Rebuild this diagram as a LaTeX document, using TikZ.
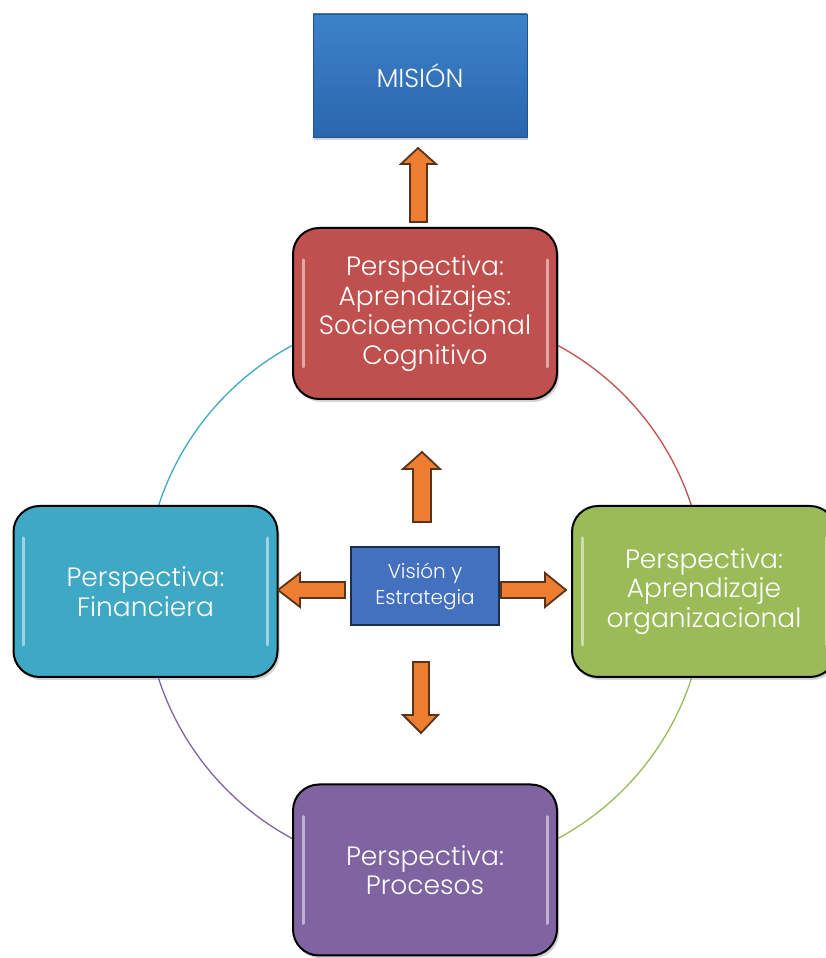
\documentclass[tikz,border=0pt]{standalone}
\usepackage{fontspec}
\setmainfont{Poppins Light}
\usetikzlibrary{shadows}
\definecolor{misblue}{HTML}{2A66AE}
\definecolor{misblueT}{HTML}{3D82C9}
\definecolor{redbox}{HTML}{C0504D}
\definecolor{cyanbox}{HTML}{3FA8C4}
\definecolor{greenbox}{HTML}{9BBB59}
\definecolor{purplebox}{HTML}{8064A2}
\definecolor{centerblue}{HTML}{4470C0}
\definecolor{centeredge}{HTML}{1B2E4F}
\definecolor{arrfill}{HTML}{ED7D31}
\definecolor{arredge}{HTML}{5A3418}
\tikzset{
  persp/.style={draw=black, line width=2pt, rounded corners=26pt,
    minimum width=264pt, minimum height=171pt, text=white, align=center,
    font=\fontsize{26.5}{29.5}\selectfont,
    drop shadow={opacity=0.35, shadow xshift=2pt, shadow yshift=-3pt},
    path picture={
      \draw[white, opacity=0.5, line width=3pt, line cap=round]
        ([xshift=10pt,yshift=-32pt]path picture bounding box.north west) --
        ([xshift=10pt,yshift=32pt]path picture bounding box.south west);
      \draw[white, opacity=0.5, line width=3pt, line cap=round]
        ([xshift=-10pt,yshift=-32pt]path picture bounding box.north east) --
        ([xshift=-10pt,yshift=32pt]path picture bounding box.south east);
    }},
  blockarr/.style={fill=arrfill, draw=arredge, line width=1.8pt, line join=miter},
  ring/.style={line width=1.3pt}
}
\begin{document}
\begin{tikzpicture}[x=1pt,y=1pt]
\useasboundingbox (0,0) rectangle (826,958);
% ring
\coordinate (c) at (425,366);
\draw[ring, cyanbox] (c) ++(90:280pt) arc[start angle=90, end angle=180, radius=280pt];
\draw[ring, redbox] (c) ++(0:280pt) arc[start angle=0, end angle=90, radius=280pt];
\draw[ring, greenbox] (c) ++(270:280pt) arc[start angle=270, end angle=360, radius=280pt];
\draw[ring, purplebox] (c) ++(180:280pt) arc[start angle=180, end angle=270, radius=280pt];
% mission
\node[minimum width=214pt, minimum height=123pt, top color=misblueT, bottom color=misblue,
  draw=misblue!80!black, line width=0.8pt, text=white, font=\fontsize{26}{30}\selectfont,
  drop shadow={opacity=0.35, shadow xshift=1pt, shadow yshift=-3pt}]
  (mision) at (420,882.5) {MISIÓN};
% perspectives
\node[persp, fill=redbox] (aprend) at (425,644.5) {Perspectiva:\\Aprendizajes:\\Socioemocional\\Cognitivo};
\node[persp, fill=cyanbox] (fin) at (145.5,366.5) {Perspectiva:\\Financiera};
\node[persp, fill=greenbox] (org) at (704,366.5) {Perspectiva:\\Aprendizaje\\organizacional};
\node[persp, fill=purplebox] (proc) at (425,88) {Perspectiva:\\Procesos};
% center
\node[minimum width=148pt, minimum height=78pt, fill=centerblue, draw=centeredge, line width=2pt,
  text=white, align=center, font=\fontsize{20}{26}\selectfont] (vision) at (425,371.5) {Visión y\\Estrategia};
% block arrows
\draw[blockarr] (410,736) -- (410,794) -- (401,794) -- (418,810) -- (436,794) -- (427,794) -- (427,736) -- cycle;
\draw[blockarr] (413,436) -- (413,489) -- (403,489) -- (422,506) -- (440,489) -- (431,489) -- (431,436) -- cycle;
\draw[blockarr] (413,296) -- (413,243) -- (403,243) -- (421,225) -- (438,243) -- (429,243) -- (429,296) -- cycle;
\draw[blockarr] (345,376) -- (300,376) -- (300,385) -- (278,368) -- (300,351) -- (300,360) -- (345,360) -- cycle;
\draw[blockarr] (501,376) -- (545,376) -- (545,385) -- (566,368) -- (545,351) -- (545,360) -- (501,360) -- cycle;
\end{tikzpicture}
\end{document}
